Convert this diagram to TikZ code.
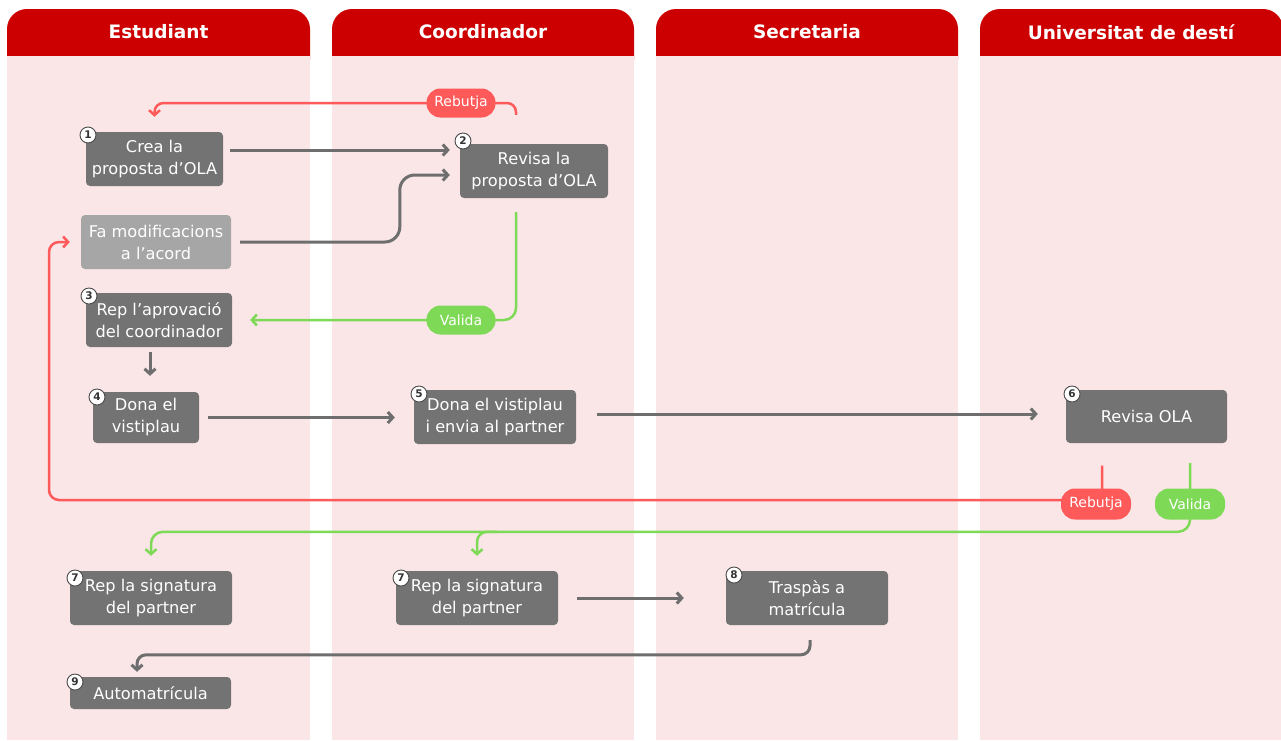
\documentclass[tikz,border=0pt]{standalone}
\usepackage{fontspec}
\setmainfont{DejaVu Sans}
\usetikzlibrary{arrows.meta,calc}
\pgfdeclarelayer{lanes}
\pgfdeclarelayer{lines}
\pgfsetlayers{lanes,lines,main}
\definecolor{hred}{HTML}{CC0000}
\definecolor{lpink}{HTML}{FAE6E7}
\definecolor{boxgray}{HTML}{737373}
\definecolor{boxlight}{HTML}{A6A6A6}
\definecolor{linegray}{HTML}{6E6E6E}
\definecolor{rred}{HTML}{FF5A5A}
\definecolor{ggreen}{HTML}{7ED957}
\definecolor{badgeline}{HTML}{4A4A4A}
\begin{document}
\begin{tikzpicture}[x=1pt,y=-1pt,
  stepbox/.style={fill=boxgray,text=white,rounded corners=4pt,align=center,
    font=\fontsize{16.2}{22}\selectfont,inner sep=0pt},
  lightbox/.style={stepbox,fill=boxlight},
  pill/.style={rounded corners=14pt,text=white,minimum width=69pt,minimum height=29pt,
    inner sep=0pt,font=\fontsize{14}{16}\selectfont},
  badge/.style={circle,fill=white,draw=badgeline,line width=0.9pt,inner sep=0pt,
    minimum size=16pt,font=\bfseries\fontsize{10.5}{10.5}\selectfont,text=black!80},
  lanehead/.style={text=white,font=\bfseries\fontsize{18.5}{22}\selectfont},
  tipg/.style={-{Straight Barb[length=5pt,width=11pt]}},
  garr/.style={draw=linegray,line width=3pt,tipg},
  rline/.style={draw=rred,line width=2.5pt},
  gline/.style={draw=ggreen,line width=2.5pt},
]
\useasboundingbox (0,0) rectangle (1281,740);

\begin{pgfonlayer}{lanes}
\fill[white] (0,0) rectangle (1281,740);
\foreach \a/\b in {7/310,332/634,656/958,980/1283}{
  \fill[hred,rounded corners=20pt] (\a,9) rectangle (\b,80);
  \fill[lpink] (\a,56) rectangle (\b,740);
}
\end{pgfonlayer}

\node[lanehead] (h1) at (158.5,32) {Estudiant};
\node[lanehead] (h2) at (483,32) {Coordinador};
\node[lanehead] (h3) at (807,32) {Secretaria};
\node[lanehead] (h4) at (1131,32) {Universitat de destí};

% steps
\node[stepbox,minimum width=137pt,minimum height=54pt] (n1) at (154.5,159) {Crea la\\proposta d’OLA};
\node[stepbox,minimum width=148pt,minimum height=54pt] (n2) at (534,171) {Revisa la\\proposta d’OLA};
\node[lightbox,minimum width=150pt,minimum height=54pt] (nf) at (156,242) {Fa modificacions\\a l’acord};
\node[stepbox,minimum width=146pt,minimum height=54pt] (n3) at (159,320) {Rep l’aprovació\\del coordinador};
\node[stepbox,minimum width=106pt,minimum height=51pt] (n4) at (146,417.5) {Dona el\\vistiplau};
\node[stepbox,minimum width=162pt,minimum height=54pt] (n5) at (495,417) {Dona el vistiplau\\i envia al partner};
\node[stepbox,minimum width=161pt,minimum height=53pt] (n6) at (1146.5,416.5) {Revisa OLA};
\node[stepbox,minimum width=162pt,minimum height=54pt] (n7a) at (151,598) {Rep la signatura\\del partner};
\node[stepbox,minimum width=162pt,minimum height=54pt] (n7b) at (477,598) {Rep la signatura\\del partner};
\node[stepbox,minimum width=162pt,minimum height=54pt] (n8) at (807,598) {Traspàs a\\matrícula};
\node[stepbox,minimum width=161pt,minimum height=32pt] (n9) at (150.5,693) {Automatrícula};

% badges
\node[badge] (b1) at (88,135) {1};
\node[badge] (b2) at (463,141) {2};
\node[badge] (b3) at (89,296) {3};
\node[badge] (b4) at (97,397) {4};
\node[badge] (b5) at (419,394) {5};
\node[badge] (b6) at (1072,394) {6};
\node[badge] (b7a) at (75,578) {7};
\node[badge] (b7b) at (401,578) {7};
\node[badge] (b8) at (734,575) {8};
\node[badge] (b9) at (75,682) {9};

% pills
\node[pill,fill=rred] (pr1) at (461,103) {Rebutja};
\node[pill,fill=ggreen] (pv1) at (461,320) {Valida};
\node[pill,fill=rred,minimum width=70pt,minimum height=31pt] (pr2) at (1096,504) {Rebutja};
\node[pill,fill=ggreen,minimum width=70pt,minimum height=31pt] (pv2) at (1190,504) {Valida};

\coordinate (rl) at (49,500);

\begin{pgfonlayer}{lines}
\draw[garr] ([xshift=7pt,yshift=9pt]n1.east) -- ([xshift=-10pt,yshift=21pt]n2.west);
\draw[garr,rounded corners=15pt] ([xshift=9pt]nf.east) -| ([xshift=-60pt,yshift=-4pt]n2.west) -- ([xshift=-10pt,yshift=-4pt]n2.west);
\draw[rline,tipg,rounded corners=9pt] ([xshift=-18pt,yshift=29pt]n2.north) |- (pr1.center) -| ([yshift=15pt]n1.north);
\draw[gline,tipg,rounded corners=12pt] ([xshift=-18pt,yshift=-14pt]n2.south) |- ([xshift=18pt]n3.east);
\draw[garr] ([xshift=-9pt,yshift=-5pt]n3.south) -- ([xshift=4pt,yshift=16pt]n4.north);
\draw[garr] ([xshift=9pt]n4.east) -- ([xshift=-19pt,yshift=-0.5pt]n5.west);
\draw[garr] ([xshift=21pt,yshift=3pt]n5.east) -- ([xshift=-28pt,yshift=2.5pt]n6.west);
\draw[rline,tipg,rounded corners=10pt] ([xshift=-44.5pt,yshift=-22.5pt]n6.south) |- (rl) |- ([xshift=-11pt]nf.west);
\draw[gline,tipg,rounded corners=12pt] ([xshift=43.5pt,yshift=-20pt]n6.south) |- ([yshift=39pt]n7a.north) -- ([yshift=15pt]n7a.north);
\draw[gline,tipg,rounded corners=10pt] ([xshift=20pt,yshift=39pt]n7b.north) -| ([yshift=15pt]n7b.north);
\draw[garr] ([xshift=19pt]n7b.east) -- ([xshift=-42pt]n8.west);
\draw[garr,rounded corners=9pt] ([xshift=3pt,yshift=-15pt]n8.south) |- ([xshift=-13.5pt,yshift=22pt]n9.north) -- ([xshift=-13.5pt,yshift=5pt]n9.north);
\end{pgfonlayer}
\end{tikzpicture}
\end{document}
